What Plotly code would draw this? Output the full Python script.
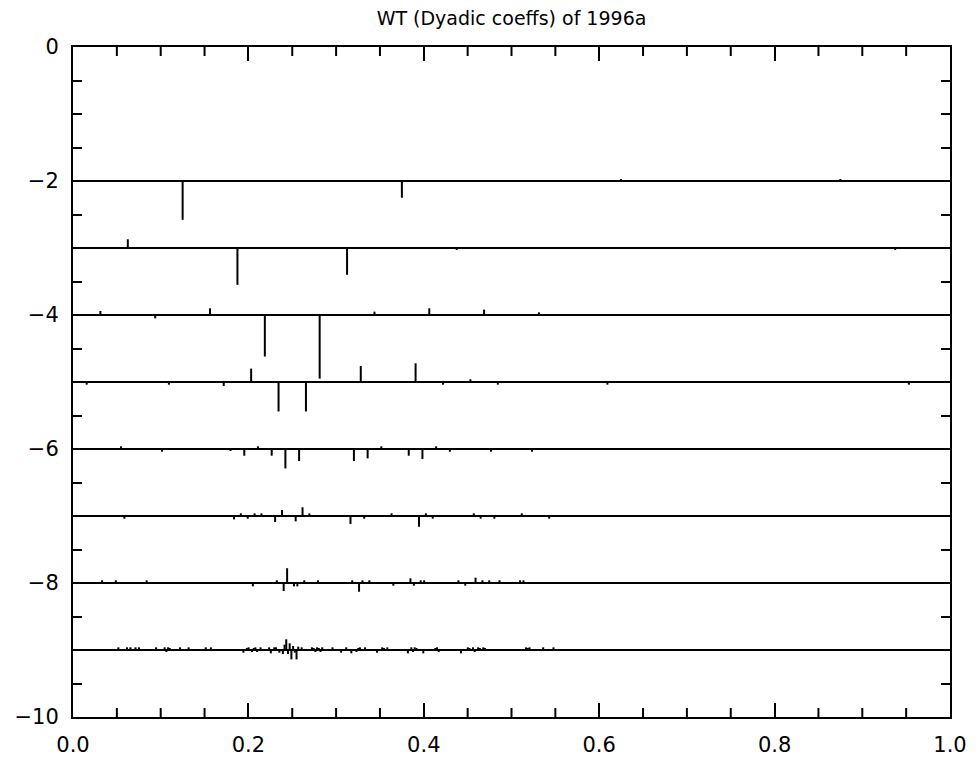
import plotly.graph_objects as go

# Dyadic wavelet coefficients, level j -> list of (k, scaled coefficient).
# Coefficient k of level j sits at t = (k + 0.5) / 2**j, drawn as a stick
# from the baseline y = -j.
coef_j2 = [(0, -0.58), (1, -0.25), (2, 0.03), (3, 0.03)]

coef_j3 = [(0, 0.13), (1, -0.55), (2, -0.40), (3, -0.03), (7, -0.03)]

coef_j4 = [(0, 0.06), (1, -0.05), (2, 0.10), (3, -0.62), (4, -0.95),
           (5, 0.05), (6, 0.10), (7, 0.08), (8, 0.04)]

coef_j5 = [(0, -0.04), (3, -0.04), (5, -0.06), (6, 0.20), (7, -0.44),
           (8, -0.44), (10, 0.24), (12, 0.28), (13, -0.04), (14, 0.04),
           (15, -0.04), (19, -0.04), (30, -0.04)]

coef_j6 = [(3, 0.04), (6, -0.04), (11, -0.03), (12, -0.10), (13, 0.04),
           (14, -0.10), (15, -0.29), (16, -0.18), (20, -0.18), (21, -0.14),
           (22, 0.04), (24, -0.10), (25, -0.15), (26, 0.04), (27, -0.04),
           (30, -0.04), (33, -0.04)]

coef_j7 = [(7, -0.04), (23, -0.05), (24, 0.04), (25, -0.04), (26, 0.04),
           (27, 0.04), (29, -0.09), (30, 0.09), (32, -0.08), (33, 0.13),
           (34, 0.04), (40, -0.12), (42, -0.04), (46, 0.04), (50, -0.16),
           (51, 0.04), (52, -0.04), (58, 0.04), (59, -0.04), (61, -0.04),
           (65, 0.04), (69, -0.04)]

coef_j8 = [(8, 0.04), (12, 0.04), (21, 0.04), (52, -0.05), (59, 0.04),
           (61, -0.12), (62, 0.22), (64, -0.05), (65, -0.05), (67, 0.04),
           (71, 0.04), (81, 0.04), (83, -0.13), (84, 0.04), (86, 0.04),
           (93, -0.04), (98, 0.07), (99, -0.04), (101, 0.04), (102, 0.04),
           (112, 0.04), (114, -0.04), (117, 0.08), (119, 0.04), (121, 0.04),
           (124, 0.04), (130, 0.04), (131, 0.04)]

coef_j9 = [(26, 0.04), (31, 0.04), (33, 0.04), (36, 0.04), (38, 0.04),
           (48, 0.04), (53, 0.04), (54, -0.03), (55, 0.04), (56, 0.03),
           (62, 0.04), (67, 0.04), (77, 0.04), (80, 0.04),
           (99, -0.04), (101, 0.03), (102, 0.04), (104, -0.03), (105, 0.03),
           (106, 0.04), (107, -0.03), (109, 0.04),
           (114, 0.04), (115, -0.05), (117, 0.04), (118, 0.04), (120, -0.04),
           (122, -0.06), (123, 0.08), (124, 0.16), (125, -0.06), (126, 0.10),
           (127, -0.14), (128, 0.06), (129, -0.04), (130, -0.14), (131, 0.05),
           (133, 0.04), (139, 0.04), (140, 0.03), (141, -0.03), (142, 0.04),
           (143, 0.03), (144, -0.03), (145, 0.04), (151, 0.04), (156, -0.04),
           (159, 0.04), (162, -0.05), (165, -0.03), (166, 0.03), (167, 0.04),
           (170, 0.04), (177, -0.04), (180, 0.04), (181, 0.03), (183, 0.04),
           (195, -0.05), (197, 0.04), (198, -0.03), (199, 0.04), (200, 0.03),
           (204, -0.05), (211, 0.03), (212, 0.04), (213, -0.03), (226, -0.05),
           (230, 0.04), (231, 0.03), (233, 0.04), (234, -0.03), (236, 0.04),
           (237, 0.03), (239, 0.04), (240, 0.03), (264, 0.04), (265, 0.03),
           (266, 0.04), (274, 0.04), (280, 0.04)]

levels = [2, 3, 4, 5, 6, 7, 8, 9]
coeffs = [coef_j2, coef_j3, coef_j4, coef_j5, coef_j6, coef_j7, coef_j8, coef_j9]

title_text = "WT (Dyadic coeffs) of 1996a"

fig = go.Figure()

line_style = dict(color="black", width=2)

for j, cj in zip(levels, coeffs):
    # baseline for the level
    fig.add_trace(go.Scatter(x=[0, 1], y=[-j, -j], mode="lines",
                             line=line_style, hoverinfo="skip",
                             showlegend=False))
    xs, ys = [], []
    n = 2 ** j
    for k, c in cj:
        t = (k + 0.5) / n
        xs += [t, t, None]
        ys += [-j, -j + c, None]
    fig.add_trace(go.Scatter(x=xs, y=ys, mode="lines", line=line_style,
                             hoverinfo="skip", showlegend=False))

# invisible trace so the top/right tick axes are rendered
fig.add_trace(go.Scatter(x=[0, 1], y=[-10, 0], xaxis="x2", yaxis="y2",
                         mode="markers", marker=dict(opacity=0),
                         hoverinfo="skip", showlegend=False))

# short x ticks every 0.05 on the bottom and top frame edges
x_minor_vals = [i / 20 for i in range(1, 20) if i % 4 != 0]
for t in x_minor_vals:
    for edge, y1 in ((0, 9), (1, -9)):
        fig.add_shape(type="line", xref="x", yref="paper",
                      x0=t, x1=t, ysizemode="pixel", yanchor=edge,
                      y0=0, y1=y1, line=dict(color="black", width=2),
                      layer="above")

tick_font = dict(family="DejaVu Sans", size=21, color="black")

x_ticks = dict(range=[0, 1], dtick=0.2, tick0=0,
               showgrid=False, zeroline=False,
               ticks="inside", ticklen=14, tickwidth=2, tickcolor="black")
y_ticks = dict(range=[-10, 0], dtick=2, tick0=0,
               showgrid=False, zeroline=False,
               ticks="inside", ticklen=10, tickwidth=2, tickcolor="black",
               minor=dict(dtick=0.5, tick0=0, ticks="inside", ticklen=9,
                          tickwidth=2, tickcolor="black", showgrid=False))

fig.update_layout(
    width=979, height=769,
    margin=dict(l=73, r=22, t=47, b=40),
    paper_bgcolor="white", plot_bgcolor="white",
    title=dict(text=title_text, x=0.5, xref="paper", y=1 - 18 / 769,
               yref="container", xanchor="center", yanchor="middle",
               font=dict(family="DejaVu Sans", size=19, color="black")),
    showlegend=False,
    xaxis=dict(**x_ticks, tickformat=".1f",
               showline=True, linecolor="black", linewidth=2, mirror=True,
               ticklabelstandoff=8, tickfont=tick_font),
    yaxis=dict(**y_ticks,
               showline=True, linecolor="black", linewidth=2, mirror=True,
               ticklabelstandoff=8, tickfont=tick_font),
    xaxis2=dict(**x_ticks, overlaying="x", side="top", anchor="y2",
                showticklabels=False, showline=False),
    yaxis2=dict(**y_ticks, overlaying="y", side="right", anchor="x2",
                showticklabels=False, showline=False),
)

fig.write_html("out.html")
